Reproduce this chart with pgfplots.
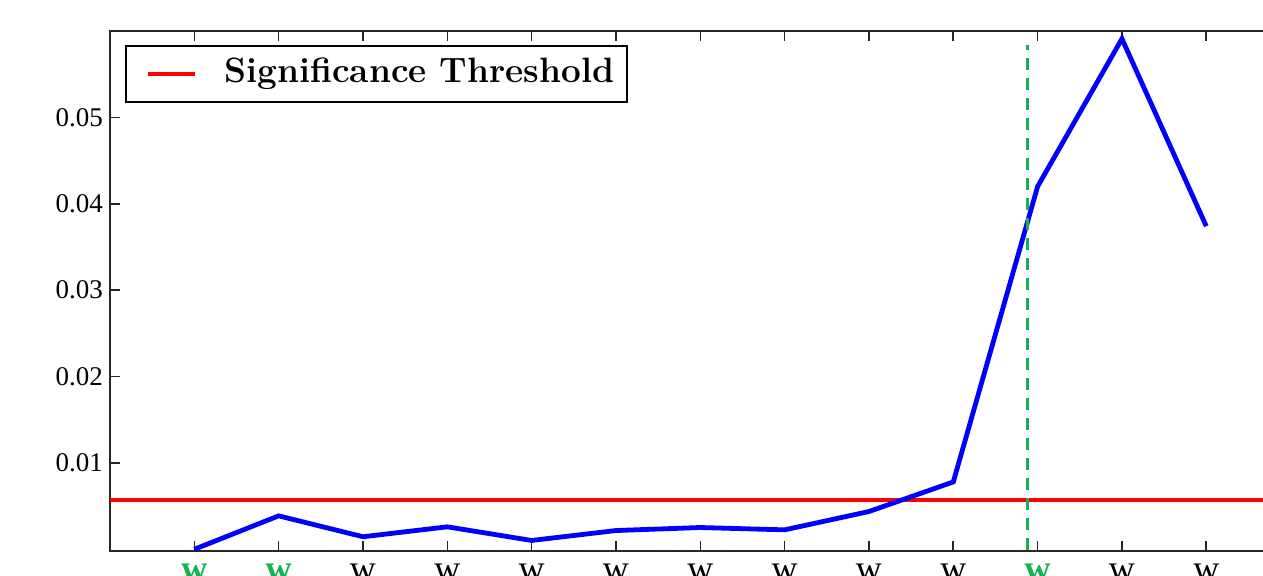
\documentclass[border=0pt]{standalone}
\usepackage{fontspec}
\setmainfont{Liberation Serif}
\newfontfamily\lmfont{Latin Modern Roman}
\usepackage{pgfplots}
\pgfplotsset{compat=1.18}
\definecolor{tgreen}{RGB}{20,178,80}
\begin{document}
\begin{tikzpicture}
\useasboundingbox (0,0) rectangle (631.5pt,287.5pt);
\clip (0,0) rectangle (631.5pt,287.5pt);
\begin{axis}[
  at={(55pt,12pt)}, anchor=south west,
  scale only axis, width=590.3pt, height=260pt,
  xmin=-1, xmax=13, ymin=-0.0002, ymax=0.06,
  axis line style={black!85, line width=1pt},
  tick align=inside, major tick length=5pt,
  every tick/.style={black!85, line width=0.8pt},
  xtick={0,...,12},
  xticklabels={{\textbf{\color{tgreen}w}},{\textbf{\color{tgreen}w}},w,w,w,w,w,w,w,w,{\textbf{\color{tgreen}w}},w,w},
  x tick label style={font=\fontsize{18}{20}\selectfont, yshift=-3pt},
  ytick={0.01,0.02,0.03,0.04,0.05},
  yticklabel style={/pgf/number format/fixed, /pgf/number format/precision=2, /pgf/number format/fixed zerofill, /pgf/number format/assume math mode=true, font=\fontsize{13.5}{15}\selectfont},
  scaled y ticks=false,
  legend style={at={(0.0127,0.973)}, anchor=north west, draw=black, line width=1pt,
    inner xsep=6.5pt, inner ysep=6.25pt,
    nodes={inner sep=0pt, text height=12pt, text depth=3.5pt},
    font=\lmfont\bfseries\fontsize{17.6}{20}\selectfont},
  legend image code/.code={\path (0pt,0pt); \draw[#1,line width=2.2pt] (3.5pt,0pt) -- (27pt,0pt); \path (40.5pt,0pt);},
]
\addplot[red, line width=2.2pt] coordinates {(-1,0.00572) (13,0.00572)};
\addlegendentry{Significance Threshold}
\addplot[blue, line width=2.4pt, forget plot] coordinates {
(0,0.0000) (1,0.00387) (2,0.00145) (3,0.0026) (4,0.00102) (5,0.00217) (6,0.00252) (7,0.00225) (8,0.00437) (9,0.0078) (10,0.0420) (11,0.0591) (12,0.0374)};
\addplot[tgreen, line width=1.2pt, dash pattern=on 6pt off 4pt, forget plot] coordinates {(9.88,-0.0001) (9.88,0.0584)};
\end{axis}
\end{tikzpicture}
\end{document}
